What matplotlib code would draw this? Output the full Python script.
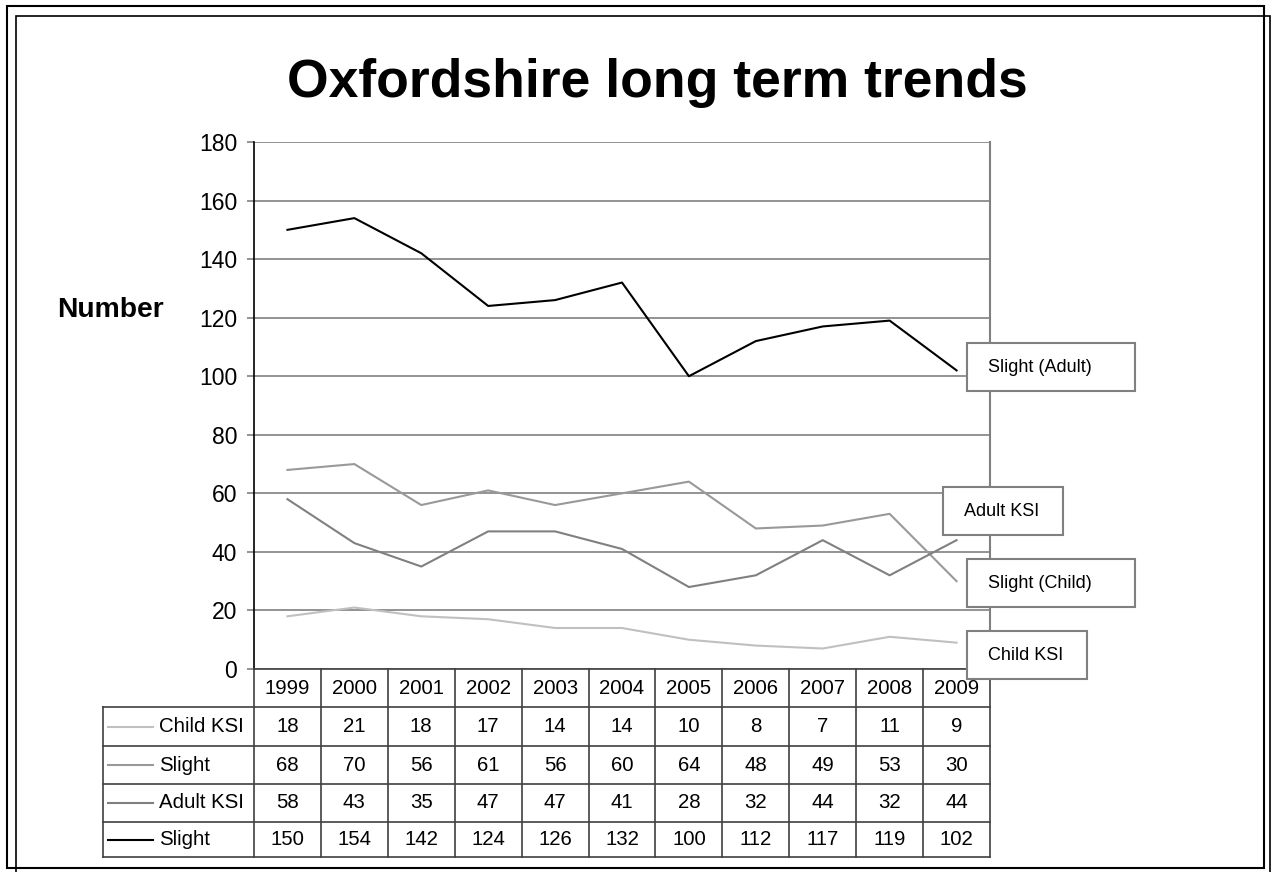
import matplotlib
matplotlib.use("Agg")
import matplotlib.pyplot as plt
from matplotlib.patches import Rectangle

plt.rcParams['font.family'] = ['Liberation Sans', 'DejaVu Sans']

years = ['1999', '2000', '2001', '2002', '2003', '2004', '2005', '2006', '2007', '2008', '2009']
child_ksi = [18, 21, 18, 17, 14, 14, 10, 8, 7, 11, 9]
slight_child = [68, 70, 56, 61, 56, 60, 64, 48, 49, 53, 30]
adult_ksi = [58, 43, 35, 47, 47, 41, 28, 32, 44, 32, 44]
slight_adult = [150, 154, 142, 124, 126, 132, 100, 112, 117, 119, 102]

row_names = ['Child KSI', 'Slight', 'Adult KSI', 'Slight']
box_names = ['Child KSI', 'Slight (Child)', 'Adult KSI', 'Slight (Adult)']
series = [child_ksi, slight_child, adult_ksi, slight_adult]
colours = ['#c0c0c0', '#999999', '#808080', '#000000']

W, H = 1274, 872
fig = plt.figure(figsize=(W / 100, H / 100), dpi=100)

def fx(px):
    return px / W

def fy(py):
    return 1 - py / H

# page frame: two offset rectangles
fig.patches.append(Rectangle((fx(7), fy(868)), fx(1257), 862 / H, transform=fig.transFigure,
                             fill=False, ec='black', lw=1.5))
fig.patches.append(Rectangle((fx(16), fy(890)), fx(1254), 874 / H, transform=fig.transFigure,
                             fill=False, ec='black', lw=1.2))

left, right, top, bottom = 254, 990, 142, 669
ax = fig.add_axes([fx(left), fy(bottom), fx(right - left), (bottom - top) / H])
x = list(range(len(years)))
for vals, c in zip(series, colours):
    ax.plot(x, vals, color=c, lw=1.5)

ax.set_xlim(-0.5, len(years) - 0.5)
ax.set_ylim(0, 180)
ax.set_yticks(range(0, 181, 20))
ax.set_xticks([])
ax.yaxis.grid(True, color='#808080', lw=1.2)
ax.set_axisbelow(True)
for s in ['top', 'bottom']:
    ax.spines[s].set_visible(False)
ax.spines['right'].set_color('#808080')
ax.spines['right'].set_linewidth(1.5)
ax.spines['left'].set_linewidth(1.2)
ax.tick_params(axis='y', labelsize=16.5, length=5, width=1.2, color='#808080', pad=7)

fig.text(fx(657), fy(83), 'Oxfordshire long term trends', ha='center', va='center',
         fontsize=38.5, fontweight='bold')
fig.text(fx(110), fy(310), 'Number', ha='center', va='center', fontsize=20.3, fontweight='bold')

# data table below the plot
col_w = (right - left) / len(years)
row_edges = [669, 707, 746, 784, 822, 857]
tab_left = 103
lc = '#404040'

def hline(y, x0, x1):
    fig.add_artist(plt.Line2D([fx(x0), fx(x1)], [fy(y), fy(y)], transform=fig.transFigure,
                              color=lc, lw=1.2))

def vline(xp, y0, y1):
    fig.add_artist(plt.Line2D([fx(xp), fx(xp)], [fy(y0), fy(y1)], transform=fig.transFigure,
                              color=lc, lw=1.2))

hline(row_edges[0], left, right)
for y in row_edges[1:]:
    hline(y, tab_left, right)
vline(tab_left, row_edges[1], row_edges[-1])
vline(left, row_edges[0], row_edges[-1])
for i in range(1, len(years) + 1):
    vline(left + i * col_w, row_edges[0], row_edges[-1])

for i, yr in enumerate(years):
    cx = left + (i + 0.5) * col_w
    fig.text(fx(cx), fy((row_edges[0] + row_edges[1]) / 2), yr, ha='center', va='center', fontsize=14.7)

for r, (name, vals, c) in enumerate(zip(row_names, series, colours)):
    cy = (row_edges[r + 1] + row_edges[r + 2]) / 2
    fig.add_artist(plt.Line2D([fx(108), fx(153)], [fy(cy), fy(cy)], transform=fig.transFigure,
                              color=c, lw=1.5))
    fig.text(fx(159), fy(cy), name, ha='left', va='center', fontsize=14.7)
    for i, v in enumerate(vals):
        cx = left + (i + 0.5) * col_w
        fig.text(fx(cx), fy(cy), str(v), ha='center', va='center', fontsize=14.7)

# series label boxes on the right
boxes = {
    'Slight (Adult)': (967, 343, 1135, 391),
    'Adult KSI': (943, 487, 1063, 535),
    'Slight (Child)': (967, 559, 1135, 607),
    'Child KSI': (967, 631, 1087, 679),
}
for name in box_names:
    x0, y0, x1, y1 = boxes[name]
    fig.patches.append(Rectangle((fx(x0), fy(y1)), fx(x1 - x0), (y1 - y0) / H,
                                 transform=fig.transFigure, fc='white', ec='#808080', lw=1.5,
                                 zorder=5))
    fig.text(fx(x0 + 21), fy((y0 + y1) / 2), name, ha='left', va='center', fontsize=13, zorder=6)

fig.savefig('out.png', dpi=100)
